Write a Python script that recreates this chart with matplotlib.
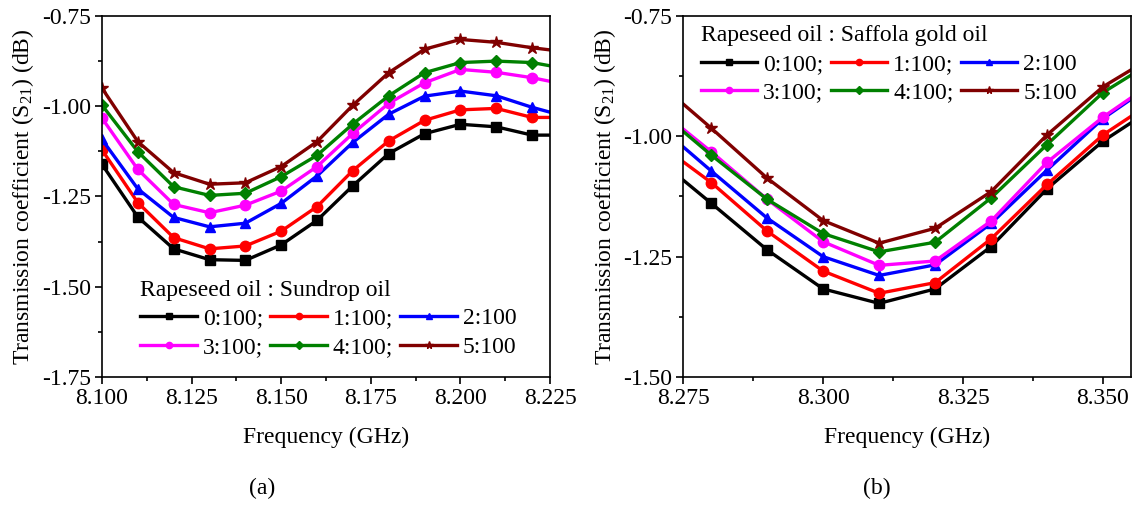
import numpy as np
import matplotlib
matplotlib.use('Agg')
import matplotlib.pyplot as plt
from matplotlib.ticker import MultipleLocator, FormatStrFormatter

plt.rcParams['font.family'] = ['Liberation Serif', 'DejaVu Serif']
plt.rcParams['mathtext.fontset'] = 'custom'
plt.rcParams['mathtext.rm'] = 'Liberation Serif'
plt.rcParams['mathtext.it'] = 'Liberation Serif:italic'
plt.rcParams['axes.unicode_minus'] = False

# (a) Rapeseed oil : Sundrop oil
freq_a = [8.10, 8.11, 8.12, 8.13, 8.14, 8.15, 8.16, 8.17, 8.18, 8.19, 8.20, 8.21, 8.22, 8.23]
a_0 = [-1.161, -1.307, -1.395, -1.425, -1.427, -1.384, -1.316, -1.220, -1.131, -1.076, -1.050, -1.057, -1.080, -1.080]
a_1 = [-1.121, -1.267, -1.364, -1.395, -1.387, -1.346, -1.278, -1.178, -1.096, -1.039, -1.010, -1.006, -1.031, -1.031]
a_2 = [-1.092, -1.229, -1.308, -1.334, -1.324, -1.269, -1.193, -1.100, -1.022, -0.972, -0.958, -0.971, -1.003, -1.030]
a_3 = [-1.033, -1.175, -1.272, -1.295, -1.274, -1.235, -1.167, -1.075, -0.992, -0.935, -0.898, -0.906, -0.921, -0.941]
a_4 = [-0.997, -1.126, -1.223, -1.247, -1.241, -1.195, -1.136, -1.049, -0.971, -0.907, -0.879, -0.875, -0.879, -0.897]
a_5 = [-0.950, -1.098, -1.184, -1.216, -1.212, -1.167, -1.098, -0.997, -0.907, -0.842, -0.815, -0.823, -0.838, -0.850]

# (b) Rapeseed oil : Saffola gold oil
freq_b = [8.27, 8.28, 8.29, 8.30, 8.31, 8.32, 8.33, 8.34, 8.35, 8.36]
b_0 = [-1.043, -1.139, -1.236, -1.317, -1.347, -1.317, -1.229, -1.109, -1.010, -0.934]
b_1 = [-1.010, -1.096, -1.197, -1.280, -1.326, -1.304, -1.213, -1.100, -0.997, -0.920]
b_2 = [-0.972, -1.072, -1.170, -1.250, -1.289, -1.267, -1.181, -1.070, -0.963, -0.883]
b_3 = [-0.938, -1.032, -1.131, -1.219, -1.268, -1.259, -1.176, -1.054, -0.960, -0.880]
b_4 = [-0.941, -1.039, -1.131, -1.202, -1.240, -1.220, -1.128, -1.017, -0.909, -0.837]
b_5 = [-0.883, -0.983, -1.087, -1.175, -1.222, -1.191, -1.115, -0.997, -0.897, -0.827]

labels = ['0:100;', '1:100;', '2:100', '3:100;', '4:100;', '5:100']
colors = ['#000000', '#ff0000', '#0000ff', '#ff00ff', '#008000', '#800000']
markers = ['s', 'o', '^', 'o', 'D', '*']
msizes = [6.5, 7.5, 7.5, 7.5, 6.5, 9]

fs = 17

fig = plt.figure(figsize=(11.32, 5.09), dpi=100)
ax1 = fig.add_axes([0.0901, 0.2593, 0.3958, 0.7093])
ax2 = fig.add_axes([0.6036, 0.2593, 0.3955, 0.7093])


def draw(ax, x, series, title, xlim, ylim, leg_anchor):
    handles = []
    for y, lab, c, m, ms in zip(series, labels, colors, markers, msizes):
        h, = ax.plot(x, y, color=c, marker=m, markersize=ms, linewidth=2.4, label=lab)
        handles.append(h)
    ax.set_xlim(*xlim)
    ax.set_ylim(*ylim)
    ax.xaxis.set_major_locator(MultipleLocator(0.025))
    ax.xaxis.set_minor_locator(MultipleLocator(0.0125))
    ax.yaxis.set_major_locator(MultipleLocator(0.25))
    ax.yaxis.set_minor_locator(MultipleLocator(0.125))
    ax.xaxis.set_major_formatter(FormatStrFormatter('%.3f'))
    ax.yaxis.set_major_formatter(FormatStrFormatter('%.2f'))
    ax.tick_params(which='major', direction='out', length=5, width=1.2, labelsize=fs, pad=3)
    ax.tick_params(which='minor', direction='out', length=3, width=1.2)
    for s in ax.spines.values():
        s.set_linewidth(1.2)
    ax.set_xlabel('Frequency (GHz)', fontsize=fs, labelpad=13)
    ax.set_ylabel('Transmission coefficient (S$_{21}$) (dB)', fontsize=fs, labelpad=4)
    order = [0, 3, 1, 4, 2, 5]
    leg = ax.legend([handles[i] for i in order], [labels[i] for i in order],
                    ncol=3, title=title, title_fontsize=fs, fontsize=fs,
                    frameon=False, loc='upper left', bbox_to_anchor=leg_anchor,
                    handlelength=2.4, handletextpad=0.25, columnspacing=0.3,
                    labelspacing=0.3, markerscale=0.6, borderpad=0.2,
                    alignment='left')
    return leg


draw(ax1, freq_a, [a_0, a_1, a_2, a_3, a_4, a_5], 'Rapeseed oil : Sundrop oil',
     (8.100, 8.225), (-1.75, -0.75), (0.049, 0.315))
draw(ax2, freq_b, [b_0, b_1, b_2, b_3, b_4, b_5], 'Rapeseed oil : Saffola gold oil',
     (8.275, 8.355), (-1.50, -0.75), (0.002, 1.02))

fig.text(262 / 1132, 1 - 488 / 509, '(a)', fontsize=fs, ha='center', va='center')
fig.text(877 / 1132, 1 - 488 / 509, '(b)', fontsize=fs, ha='center', va='center')

fig.savefig('out.png', dpi=100)
